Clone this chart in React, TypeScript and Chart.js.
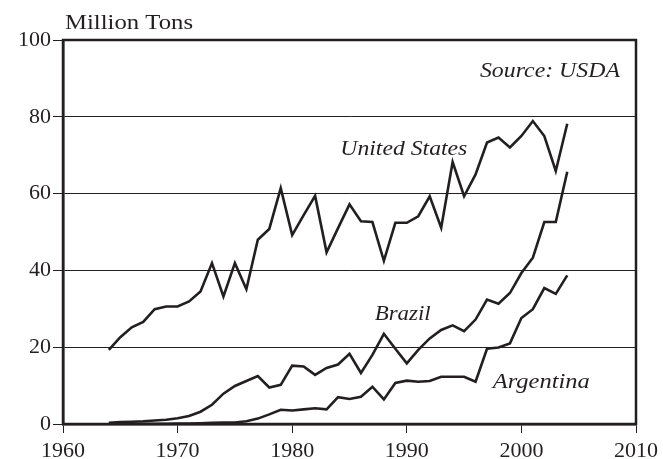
import React, { useEffect, useRef } from "react";
import { Chart, registerables } from "chart.js";

Chart.register(...registerables);

const years: number[] = [];
for (let y = 1964; y <= 2004; y++) years.push(y);

const usValues = [
  19.3, 22.6, 25.2, 26.6, 29.9, 30.6, 30.6, 31.9, 34.5, 41.9,
  33.2, 41.9, 35.1, 48.0, 50.8, 61.4, 49.2, 54.4, 59.4, 44.7,
  51.0, 57.2, 52.8, 52.6, 42.5, 52.4, 52.4, 54.1, 59.3, 51.1,
  68.2, 59.3, 65.0, 73.3, 74.6, 72.0, 75.0, 78.9, 75.0, 65.9, 78.2,
];
const brazilValues = [
  0.3, 0.5, 0.6, 0.7, 0.9, 1.1, 1.5, 2.1, 3.2, 5.0,
  7.9, 9.9, 11.2, 12.5, 9.5, 10.2, 15.2, 15.0, 12.8, 14.6,
  15.5, 18.3, 13.3, 18.0, 23.5, 19.6, 15.8, 19.3, 22.3, 24.5,
  25.7, 24.2, 27.2, 32.4, 31.3, 34.1, 39.3, 43.3, 52.6, 52.6, 65.7,
];
const argentinaValues = [
  0.05, 0.05, 0.05, 0.05, 0.05, 0.05, 0.1, 0.1, 0.2, 0.3,
  0.4, 0.4, 0.7, 1.4, 2.5, 3.7, 3.5, 3.8, 4.1, 3.8,
  7.0, 6.5, 7.1, 9.7, 6.4, 10.7, 11.3, 11.0, 11.2, 12.3,
  12.3, 12.3, 11.0, 19.6, 19.9, 21.0, 27.6, 29.9, 35.4, 33.9, 38.7,
];

const seriesNames = ["United States", "Brazil", "Argentina"];
const xTicks = [1960, 1970, 1980, 1990, 2000, 2010];
const yTicks = [0, 20, 40, 60, 80, 100];
const yAxisTitle = "Million Tons";
const sourceText = "Source: USDA";

const INK = "#231f20";
const FONT = "'Liberation Serif', serif";

const toPoints = (vals: number[]) => years.map((x, i) => ({ x, y: vals[i] }));

function drawStretched(
  ctx: CanvasRenderingContext2D,
  text: string,
  x: number,
  y: number,
  align: "left" | "right",
  width: number
) {
  const w = ctx.measureText(text).width;
  const sx = width / w;
  ctx.save();
  ctx.translate(align === "left" ? x : x - width, y);
  ctx.scale(sx, 1);
  ctx.textAlign = "left";
  ctx.fillText(text, 0, 0);
  ctx.restore();
}

const textPlugin = {
  id: "texts",
  afterDraw(chart: any) {
    const { ctx, chartArea, scales } = chart;
    const xs = scales.x;
    const ys = scales.y;
    ctx.save();
    ctx.strokeStyle = INK;
    ctx.lineWidth = 2.5;
    ctx.strokeRect(chartArea.left, chartArea.top, chartArea.right - chartArea.left, chartArea.bottom - chartArea.top);
    ctx.fillStyle = INK;
    ctx.textBaseline = "alphabetic";
    ctx.font = `22px ${FONT}`;
    drawStretched(ctx, yAxisTitle, chartArea.left + 2, 29, "left", 128);
    ctx.font = `italic 22px ${FONT}`;
    drawStretched(ctx, sourceText, xs.getPixelForValue(2008.6), ys.getPixelForValue(90.4), "right", 140);
    drawStretched(ctx, seriesNames[0], xs.getPixelForValue(1984.2), ys.getPixelForValue(70.0), "left", 127);
    drawStretched(ctx, seriesNames[1], xs.getPixelForValue(1987.2), ys.getPixelForValue(27.1), "left", 56);
    drawStretched(ctx, seriesNames[2], xs.getPixelForValue(1997.5), ys.getPixelForValue(9.4), "left", 97);
    ctx.restore();
  },
};

export default function App() {
  const ref = useRef<HTMLCanvasElement | null>(null);
  useEffect(() => {
    let chart: any = null;
    let cancelled = false;
    const build = () => {
      if (cancelled || !ref.current) return;
      const mk = (label: string, vals: number[]) => ({
        label,
        data: toPoints(vals),
        borderColor: INK,
        borderWidth: 2.6,
        pointRadius: 0,
        tension: 0,
        borderJoinStyle: "miter" as const,
        fill: false,
      });
      chart = new Chart(ref.current, {
        type: "line",
        data: {
          datasets: [
            mk(seriesNames[0], usValues),
            mk(seriesNames[1], brazilValues),
            mk(seriesNames[2], argentinaValues),
          ],
        },
        options: {
          animation: false,
          responsive: true,
          maintainAspectRatio: false,
          layout: { padding: { top: 40, right: 24, left: 0, bottom: 0 } },
          plugins: { legend: { display: false }, tooltip: { enabled: false } },
          scales: {
            x: {
              type: "linear",
              min: 1960,
              max: 2010,
              afterBuildTicks: (s: any) => {
                s.ticks = xTicks.map((v) => ({ value: v }));
              },
              afterFit: (s: any) => {
                s.height = 35;
              },
              ticks: {
                color: INK,
                font: { family: FONT, size: 22 },
                padding: 5,
                maxRotation: 0,
                callback: (v: any) => String(v),
              },
              grid: {
                drawOnChartArea: false,
                drawTicks: true,
                tickLength: 9,
                color: INK,
                lineWidth: 1,
              },
              border: { display: true, color: INK, width: 2.5 },
            },
            y: {
              type: "linear",
              min: 0,
              max: 100,
              afterBuildTicks: (s: any) => {
                s.ticks = yTicks.map((v) => ({ value: v }));
              },
              afterFit: (s: any) => {
                s.width = 63;
              },
              ticks: {
                color: INK,
                font: { family: FONT, size: 22 },
                padding: 2,
                callback: (v: any) => String(v),
              },
              grid: {
                drawOnChartArea: true,
                drawTicks: true,
                tickLength: 10,
                color: INK,
                lineWidth: 1,
              },
              border: { display: true, color: INK, width: 2.5 },
            },
          },
        },
        plugins: [textPlugin],
      });
    };
    const fonts: any = (document as any).fonts;
    if (fonts && fonts.load) {
      Promise.all([
        fonts.load(`22px "Liberation Serif"`),
        fonts.load(`italic 22px "Liberation Serif"`),
      ]).then(build, build);
    } else {
      build();
    }
    return () => {
      cancelled = true;
      if (chart) chart.destroy();
    };
  }, []);
  return (
    <div style={{ position: "fixed", left: 0, top: 0, width: 663, height: 459, background: "#fff" }}>
      <canvas ref={ref} />
    </div>
  );
}
